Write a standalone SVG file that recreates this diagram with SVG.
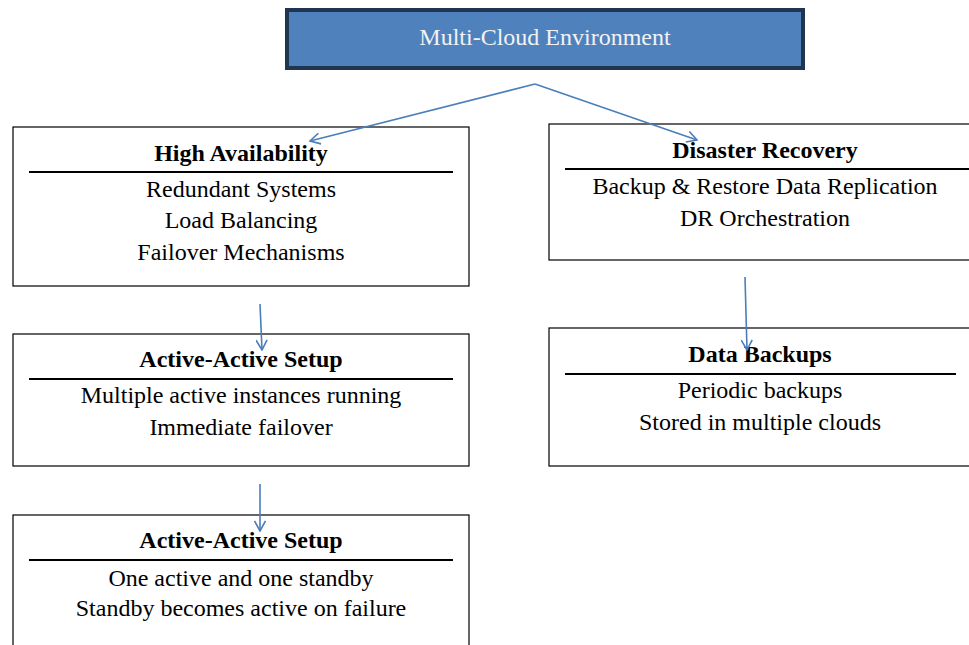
<svg xmlns="http://www.w3.org/2000/svg" width="969" height="645" viewBox="0 0 969 645">
<defs>
<style>
.box{fill:#fff;stroke:#000;stroke-width:1.2}
.rule{stroke:#000;stroke-width:2}
.t{font-family:'Liberation Serif','DejaVu Serif',serif;font-size:24px;text-anchor:middle;fill:#000}
.b{font-weight:bold}
.conn{stroke:#4A7EBB;stroke-width:1.6;fill:none}
</style>
<marker id="ah" viewBox="0 0 12 12" markerWidth="12" markerHeight="12" refX="11" refY="6" orient="auto" markerUnits="userSpaceOnUse">
<polyline points="1,0.5 11,6 1,11.5" fill="none" stroke="#4A7EBB" stroke-width="1.6"/>
</marker>
</defs>
<rect width="969" height="645" fill="#fff"/>
<g id="root">
<rect x="287" y="10" width="516" height="58" fill="#4F81BD" stroke="#1F3550" stroke-width="4"/>
<text class="t" x="545" y="45" style="fill:#F2F2F2">Multi-Cloud Environment</text>
</g>
<g id="high-availability">
<rect class="box" x="13" y="127" width="456" height="159"/>
<text class="t b" x="241" y="161">High Availability</text>
<line class="rule" x1="29" y1="172" x2="453" y2="172"/>
<text class="t" x="241" y="197">Redundant Systems</text>
<text class="t" x="241" y="228">Load Balancing</text>
<text class="t" x="241" y="260">Failover Mechanisms</text>
</g>
<g id="disaster-recovery">
<rect class="box" x="549" y="124" width="430" height="136"/>
<text class="t b" x="765" y="158">Disaster Recovery</text>
<line class="rule" x1="565" y1="169" x2="969" y2="169"/>
<text class="t" x="765" y="194">Backup &amp; Restore Data Replication</text>
<text class="t" x="765" y="226">DR Orchestration</text>
</g>
<g id="active-active">
<rect class="box" x="13" y="334" width="456" height="132"/>
<text class="t b" x="241" y="367">Active-Active Setup</text>
<line class="rule" x1="29" y1="379" x2="453" y2="379"/>
<text class="t" x="241" y="403">Multiple active instances running</text>
<text class="t" x="241" y="435">Immediate failover</text>
</g>
<g id="data-backups">
<rect class="box" x="549" y="328" width="430" height="138"/>
<text class="t b" x="760" y="362">Data Backups</text>
<line class="rule" x1="565" y1="374" x2="956" y2="374"/>
<text class="t" x="760" y="398">Periodic backups</text>
<text class="t" x="760" y="430">Stored in multiple clouds</text>
</g>
<g id="active-standby">
<rect class="box" x="13" y="515" width="456" height="140"/>
<text class="t b" x="241" y="548">Active-Active Setup</text>
<line class="rule" x1="29" y1="560" x2="453" y2="560"/>
<text class="t" x="241" y="586">One active and one standby</text>
<text class="t" x="241" y="616">Standby becomes active on failure</text>
</g>
<g id="connectors">
<line class="conn" x1="535" y1="84" x2="310" y2="141" marker-end="url(#ah)"/>
<line class="conn" x1="535" y1="84" x2="697" y2="140" marker-end="url(#ah)"/>
<line class="conn" x1="260" y1="304" x2="262" y2="350" marker-end="url(#ah)"/>
<line class="conn" x1="745" y1="277" x2="747" y2="350" marker-end="url(#ah)"/>
<line class="conn" x1="260" y1="484" x2="260" y2="531" marker-end="url(#ah)"/>
</g>
</svg>
